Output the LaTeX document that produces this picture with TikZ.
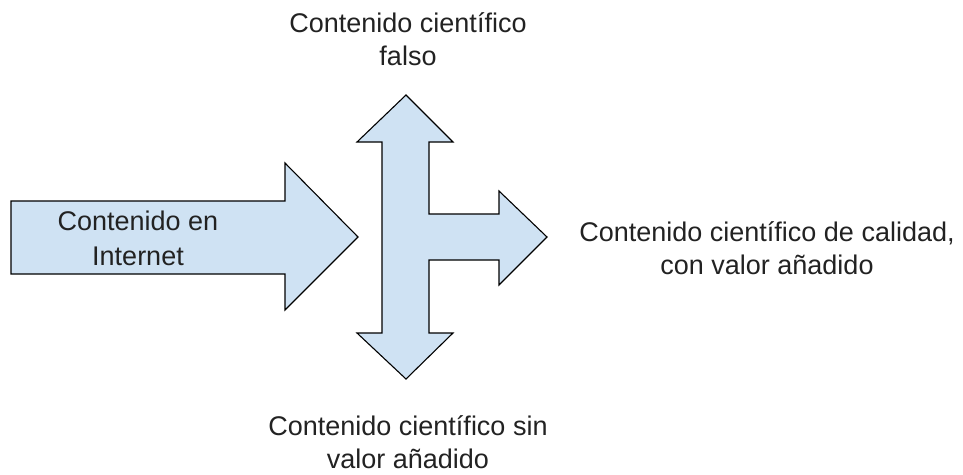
\documentclass[tikz,border=0pt]{standalone}
\usepackage{fontspec}
\setmainfont{Liberation Sans}
\definecolor{arrowblue}{HTML}{CFE2F3}
\definecolor{inkgray}{HTML}{222222}
\tikzset{
  block/.style={draw=black, fill=arrowblue, line width=1.1pt, line join=miter},
  caption/.style={text=inkgray, align=center, font=\fontsize{27}{33}\selectfont}
}
\begin{document}
\begin{tikzpicture}[x=1pt,y=-1pt]
\useasboundingbox (0,0) rectangle (963,474);
% incoming arrow
\draw[block] (11,201) -- (285,201) -- (285,163) -- (358,237) -- (285,310)
  -- (285,274) -- (11,274) -- cycle;
% three-way arrow
\draw[block] (406,95) -- (453,142) -- (429,142) -- (429,214) -- (499,214)
  -- (499,191) -- (547,237) -- (499,285) -- (499,260) -- (429,260)
  -- (429,333) -- (453,333) -- (406,379) -- (357,333) -- (382,333)
  -- (382,142) -- (357,142) -- cycle;
\node[caption, font=\fontsize{27}{35}\selectfont] (internet) at (138,238) {Contenido en\\Internet};
\node[caption] (falso) at (408,39) {Contenido científico\\falso};
\node[caption] (calidad) at (767,248) {Contenido científico de calidad,\\con valor añadido};
\node[caption] (sinvalor) at (408,442) {Contenido científico sin\\valor añadido};
\end{tikzpicture}
\end{document}
